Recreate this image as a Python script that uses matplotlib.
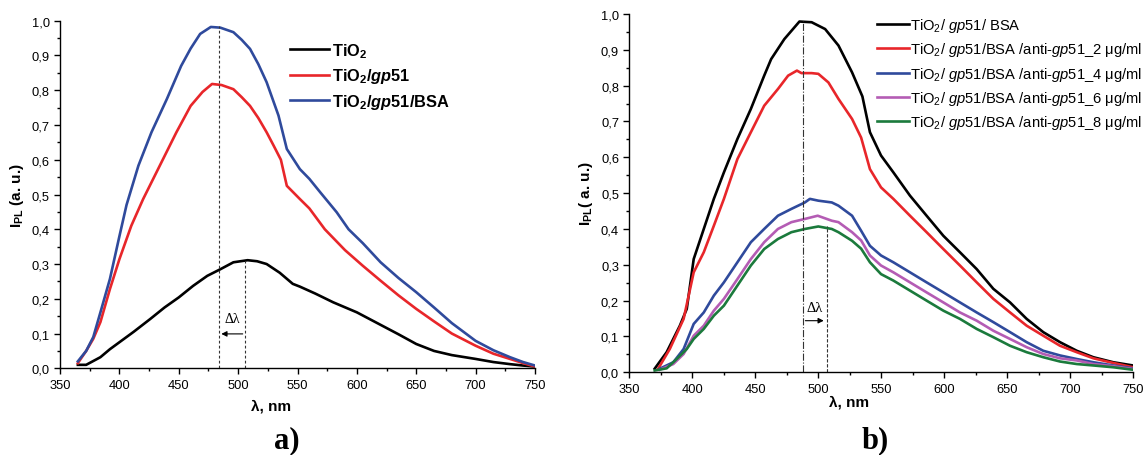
import matplotlib
matplotlib.use("Agg")
import matplotlib.pyplot as plt
from matplotlib.ticker import MultipleLocator, FuncFormatter

plt.rcParams['font.family'] = ['Liberation Sans', 'DejaVu Sans']
plt.rcParams['mathtext.fontset'] = 'custom'
plt.rcParams['mathtext.rm'] = 'Liberation Sans'
plt.rcParams['mathtext.it'] = 'Liberation Sans:italic'
plt.rcParams['mathtext.bf'] = 'Liberation Sans:bold'
plt.rcParams['mathtext.bfit'] = 'Liberation Sans:italic:bold'
plt.rcParams['mathtext.default'] = 'rm'

# ---- panel a) ----
a_tio2_x = [365, 372, 384, 392, 400, 412, 426, 438, 450, 462, 474, 485, 496, 508, 516, 524, 535,
            546, 552, 565, 580, 600, 620, 635, 650, 665, 680, 700, 715, 729, 740, 750]
a_tio2_y = [0.010, 0.010, 0.032, 0.055, 0.075, 0.105, 0.142, 0.175, 0.204, 0.237, 0.266, 0.285,
            0.305, 0.311, 0.308, 0.300, 0.275, 0.243, 0.235, 0.215, 0.190, 0.161, 0.125, 0.098,
            0.070, 0.050, 0.038, 0.027, 0.018, 0.012, 0.008, 0.005]

a_gp51_x = [365, 372, 378, 384, 392, 400, 410, 420, 434, 448, 460, 470, 478, 486, 496, 503, 510,
            517, 524, 530, 536, 541, 552, 560, 573, 590, 605, 620, 635, 650, 665, 680, 700, 715,
            729, 740, 750]
a_gp51_y = [0.015, 0.050, 0.085, 0.133, 0.228, 0.314, 0.410, 0.487, 0.583, 0.679, 0.755, 0.795,
            0.818, 0.815, 0.803, 0.780, 0.755, 0.720, 0.679, 0.640, 0.600, 0.525, 0.487, 0.460,
            0.400, 0.340, 0.295, 0.252, 0.210, 0.171, 0.135, 0.100, 0.065, 0.042, 0.027, 0.015,
            0.005]

a_bsa_x = [365, 372, 378, 384, 392, 400, 406, 416, 427, 440, 452, 460, 468, 477, 485, 496, 503,
           510, 517, 524, 534, 541, 552, 560, 569, 583, 593, 605, 620, 635, 650, 665, 680, 700,
           715, 729, 740, 750]
a_bsa_y = [0.020, 0.050, 0.090, 0.161, 0.257, 0.380, 0.470, 0.583, 0.679, 0.775, 0.870, 0.920,
           0.962, 0.982, 0.980, 0.967, 0.945, 0.919, 0.875, 0.823, 0.727, 0.631, 0.573, 0.545,
           0.507, 0.449, 0.400, 0.360, 0.305, 0.260, 0.219, 0.175, 0.130, 0.079, 0.052, 0.032,
           0.018, 0.008]

a_labels = ["TiO$_\\mathbf{2}$", "TiO$_\\mathbf{2}$/$\\mathbfit{gp}$51",
            "TiO$_\\mathbf{2}$/$\\mathbfit{gp}$51/BSA"]
a_colors = ["black", "#e8262a", "#2f4a9c"]
a_peaks = [(483.5, 0.984), (506.2, 0.31)]   # (lambda, height) of the marker lines
a_arrow_y = 0.099

# ---- panel b) ----
b_bsa_x = [370, 379.5, 390, 395.5, 401, 409, 417, 425, 435.7, 446.4, 457, 462.5, 473, 485,
           494.7, 505.4, 516, 526.8, 535, 541, 549.8, 559.6, 572.8, 586, 599.3, 612.5, 625.8,
           639, 652.3, 665.5, 678.7, 692, 705.3, 718.5, 734.3, 750]
b_bsa_y = [0.010, 0.056, 0.130, 0.177, 0.316, 0.400, 0.484, 0.558, 0.651, 0.735, 0.828, 0.874,
           0.930, 0.979, 0.977, 0.958, 0.912, 0.837, 0.770, 0.670, 0.605, 0.558, 0.493, 0.437,
           0.381, 0.335, 0.288, 0.233, 0.195, 0.149, 0.112, 0.084, 0.060, 0.042, 0.028, 0.019]

b_2_x = [372.8, 382, 393, 401, 409, 417, 425, 435.7, 446.4, 457, 468, 476, 483, 486.6, 494.7,
         500, 508, 516, 526.8, 534, 541, 549.8, 559.6, 572.8, 586, 599.3, 612.5, 625.8, 639,
         652.3, 665.5, 678.7, 692, 705.3, 718.5, 734.3, 750]
b_2_y = [0.010, 0.065, 0.149, 0.279, 0.335, 0.409, 0.484, 0.595, 0.670, 0.744, 0.791, 0.828,
         0.842, 0.835, 0.835, 0.833, 0.809, 0.763, 0.707, 0.655, 0.567, 0.516, 0.484, 0.437,
         0.391, 0.344, 0.298, 0.251, 0.205, 0.167, 0.130, 0.102, 0.074, 0.056, 0.039, 0.026,
         0.014]

b_4_x = [374, 384.8, 393, 401, 409, 417, 425, 435.7, 446.4, 457, 467.9, 478.6, 489.3, 493.3,
         500, 510.7, 516, 526.8, 534, 541, 549.8, 559.6, 572.8, 586, 599.3, 612.5, 625.8, 639,
         652.3, 665.5, 678.7, 692, 705.3, 718.5, 734.3, 750]
b_4_y = [0.010, 0.028, 0.065, 0.135, 0.167, 0.214, 0.251, 0.307, 0.363, 0.400, 0.437, 0.456,
         0.474, 0.484, 0.479, 0.474, 0.465, 0.437, 0.395, 0.353, 0.326, 0.307, 0.279, 0.251,
         0.223, 0.195, 0.167, 0.140, 0.112, 0.084, 0.060, 0.047, 0.037, 0.028, 0.019, 0.011]

b_6_x = [374, 384.8, 393, 401, 409, 417, 425, 435.7, 446.4, 457, 467.9, 478.6, 489.3, 499.5,
         510.7, 516, 526.8, 534, 541, 549.8, 559.6, 572.8, 586, 599.3, 612.5, 625.8, 639,
         652.3, 665.5, 678.7, 692, 705.3, 718.5, 734.3, 750]
b_6_y = [0.007, 0.023, 0.051, 0.102, 0.130, 0.172, 0.205, 0.260, 0.316, 0.363, 0.400, 0.419,
         0.428, 0.437, 0.423, 0.419, 0.391, 0.368, 0.326, 0.298, 0.279, 0.251, 0.223, 0.195,
         0.167, 0.144, 0.116, 0.093, 0.070, 0.051, 0.039, 0.033, 0.023, 0.017, 0.009]

b_8_x = [370, 379.5, 387.5, 395.5, 401, 409, 417, 425, 435.7, 446.4, 457, 467.9, 473, 478.6,
         489.3, 500, 510.7, 516, 526.8, 534, 541, 549.8, 559.6, 572.8, 586, 599.3, 612.5, 625.8,
         639, 652.3, 665.5, 678.7, 692, 705.3, 718.5, 734.3, 750]
b_8_y = [0.005, 0.011, 0.037, 0.065, 0.093, 0.121, 0.158, 0.186, 0.242, 0.298, 0.344, 0.372,
         0.381, 0.391, 0.400, 0.407, 0.400, 0.391, 0.367, 0.345, 0.307, 0.274, 0.256, 0.228,
         0.200, 0.172, 0.149, 0.121, 0.098, 0.074, 0.056, 0.042, 0.030, 0.023, 0.019, 0.014,
         0.007]

b_labels = ["TiO$_2$/ $\\mathit{gp}$51/ BSA",
            "TiO$_2$/ $\\mathit{gp}$51/BSA /anti-$\\mathit{gp51}$_2 \u03bcg/ml",
            "TiO$_2$/ $\\mathit{gp}$51/BSA /anti-$\\mathit{gp51}$_4 \u03bcg/ml",
            "TiO$_2$/ $\\mathit{gp}$51/BSA /anti-$\\mathit{gp51}$_6 \u03bcg/ml",
            "TiO$_2$/ $\\mathit{gp}$51/BSA /anti-$\\mathit{gp51}$_8 \u03bcg/ml"]
b_colors = ["black", "#e8262a", "#2f4a9c", "#b45cb4", "#1b7a3c"]
b_peaks = [(487.5, 0.98), (506.5, 0.407)]
b_arrow_y = 0.144


def style_axes(ax):
    ax.set_xlim(350, 750)
    ax.set_ylim(0, 1.0)
    ax.xaxis.set_major_locator(MultipleLocator(50))
    ax.xaxis.set_minor_locator(MultipleLocator(25))
    ax.yaxis.set_major_locator(MultipleLocator(0.1))
    ax.yaxis.set_minor_locator(MultipleLocator(0.05))
    ax.yaxis.set_major_formatter(FuncFormatter(lambda v, p: f"{v:.1f}".replace('.', ',')))
    for s in ['top', 'right']:
        ax.spines[s].set_visible(False)
    for s in ['left', 'bottom']:
        ax.spines[s].set_linewidth(1.0)
    ax.tick_params(which='major', direction='out', length=4, width=1, labelsize=9.3)
    ax.tick_params(which='minor', direction='out', length=2.5, width=1)


fig = plt.figure(figsize=(11.46, 4.56), dpi=100)
ax1 = fig.add_axes([0.0524, 0.1901, 0.4144, 0.7623])
ax2 = fig.add_axes([0.5493, 0.1814, 0.4394, 0.7857])

# panel a
for xs, ys, lab, c in zip([a_tio2_x, a_gp51_x, a_bsa_x], [a_tio2_y, a_gp51_y, a_bsa_y],
                          a_labels, a_colors):
    ax1.plot(xs, ys, color=c, lw=1.9, label=lab)
style_axes(ax1)
for xp, yp in a_peaks:
    ax1.plot([xp, xp], [0, yp], color='#333333', lw=0.8, ls=(0, (2.5, 2)))
ax1.annotate("", xy=(a_peaks[0][0], a_arrow_y), xytext=(a_peaks[1][0], a_arrow_y),
             arrowprops=dict(arrowstyle='-|>', color='black', lw=0.8, mutation_scale=8))
ax1.text((a_peaks[0][0] + a_peaks[1][0]) / 2, a_arrow_y + 0.025, "\u0394\u03bb",
         family='Liberation Serif', fontsize=10, ha='center', va='bottom')
ax1.set_xlabel("\u03bb, nm", fontsize=11, fontweight='bold')
ax1.xaxis.set_label_coords(0.444, -0.088)
ax1.set_ylabel("I$_\\mathbf{PL}$ (a. u.)", fontsize=11, fontweight='bold', labelpad=4)
ax1.legend(loc='upper left', bbox_to_anchor=(0.47, 0.96), frameon=False,
           prop={'weight': 'bold', 'size': 11.8}, handlelength=2.4, handletextpad=0.2,
           labelspacing=0.4, borderaxespad=0)

# panel b
for xs, ys, lab, c in zip([b_bsa_x, b_2_x, b_4_x, b_6_x, b_8_x],
                          [b_bsa_y, b_2_y, b_4_y, b_6_y, b_8_y], b_labels, b_colors):
    ax2.plot(xs, ys, color=c, lw=1.9, label=lab)
style_axes(ax2)
ax2.plot([b_peaks[0][0]] * 2, [0, b_peaks[0][1]], color='#333333', lw=0.8, ls='-.')
ax2.plot([b_peaks[1][0]] * 2, [0, b_peaks[1][1]], color='#333333', lw=0.8, ls=(0, (3, 1.5)))
ax2.annotate("", xy=(b_peaks[1][0], b_arrow_y), xytext=(b_peaks[0][0], b_arrow_y),
             arrowprops=dict(arrowstyle='-|>', color='black', lw=0.8, mutation_scale=8))
ax2.text((b_peaks[0][0] + b_peaks[1][0]) / 2, b_arrow_y + 0.02, "\u0394\u03bb",
         family='Liberation Serif', fontsize=10.5, ha='center', va='bottom')
ax2.set_xlabel("\u03bb, nm", fontsize=11, fontweight='bold')
ax2.xaxis.set_label_coords(0.436, -0.062)
ax2.set_ylabel("I$_\\mathbf{PL}$( a. u.)", fontsize=11, fontweight='bold', labelpad=4)
ax2.legend(loc='upper left', bbox_to_anchor=(0.479, 1.01), frameon=False,
           prop={'size': 10.6}, handlelength=2.2, handletextpad=0.08,
           labelspacing=0.42, borderaxespad=0)

fig.text(0.25, 0.018, "a)", family='Liberation Serif', fontweight='bold', fontsize=22,
         ha='center', va='baseline')
fig.text(0.7635, 0.018, "b)", family='Liberation Serif', fontweight='bold', fontsize=22,
         ha='center', va='baseline')

fig.savefig("out.png", dpi=100)
